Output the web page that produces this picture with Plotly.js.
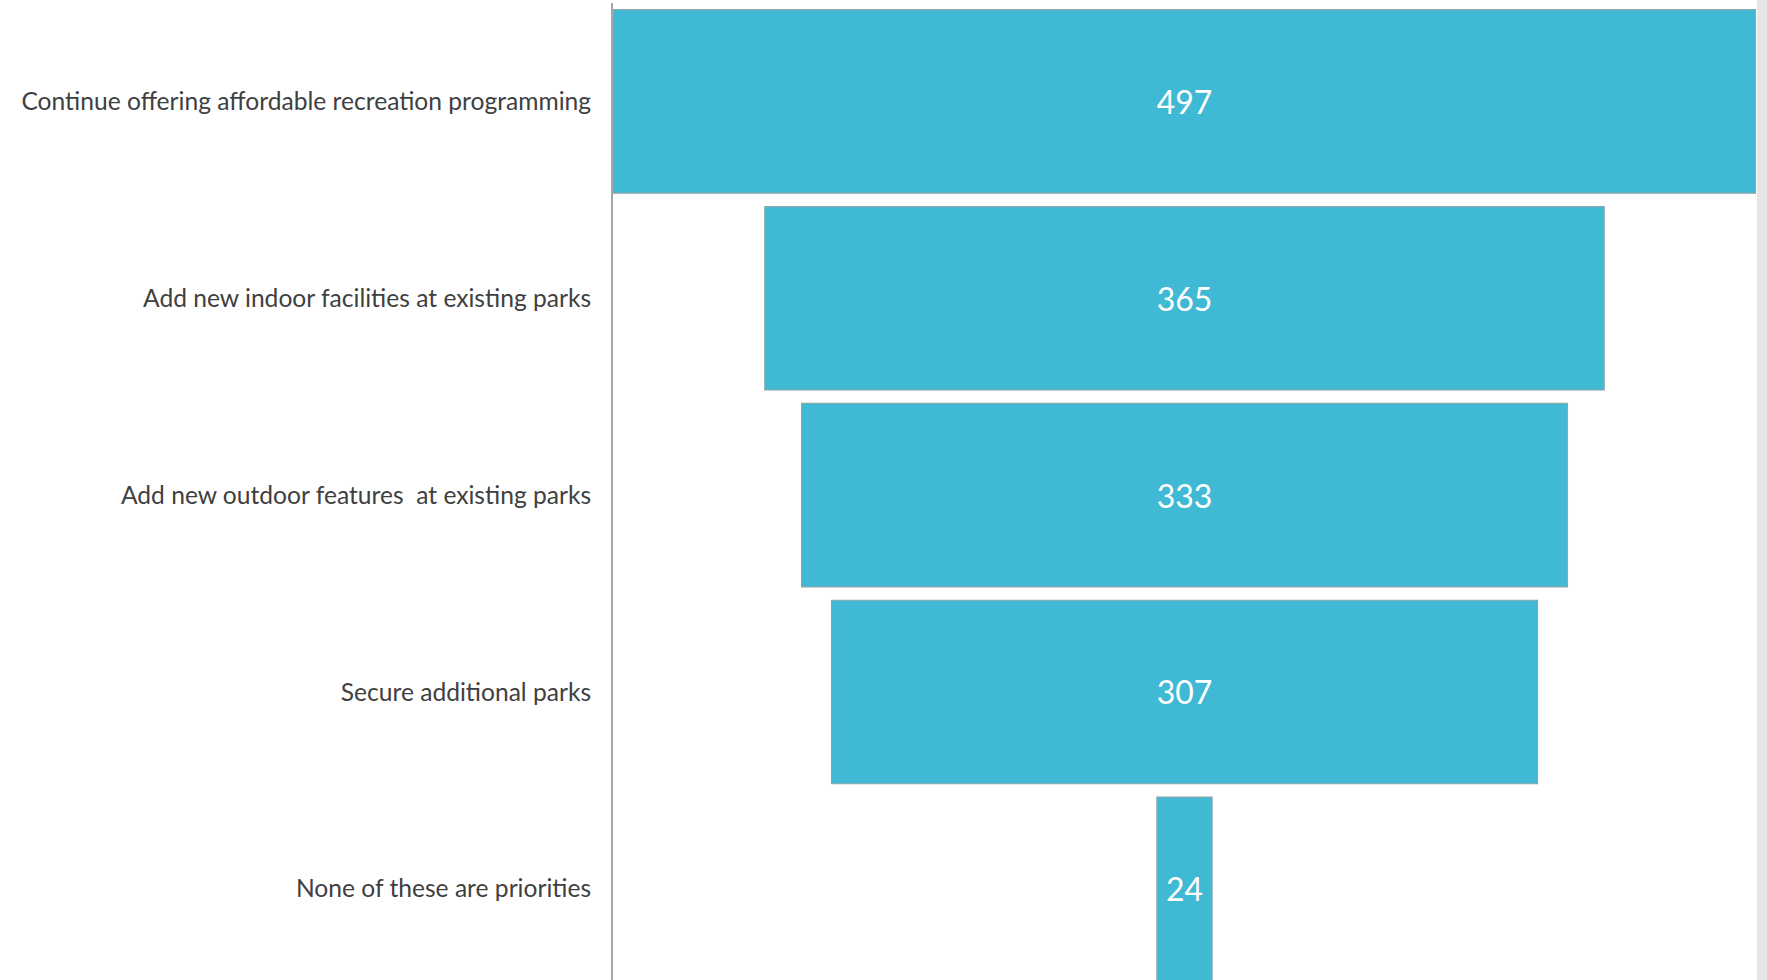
<!DOCTYPE html>
<html>
<head>
<meta charset="utf-8">
<script src="https://cdn.plot.ly/plotly-3.0.1.min.js"></script>
<style>
  html, body { margin: 0; padding: 0; background: #ffffff; }
  #chart { width: 1767px; height: 980px; }
</style>
</head>
<body>
<div id="chart"></div>
<script>
// Data
const categories = [
  "Continue offering affordable recreation programming",
  "Add new indoor facilities at existing parks",
  "Add new outdoor features \u00a0at existing parks",
  "Secure additional parks",
  "None of these are priorities"
];
const values = [497, 365, 333, 307, 24];

const barColor = "#3fb9d4";
const maxVal = Math.max.apply(null, values);

const trace = {
  type: "funnel",
  y: categories,
  x: values,
  orientation: "h",
  marker: { color: barColor, line: { color: "#8aa7ae", width: 1.2 } },
  connector: { visible: false },
  textinfo: "value",
  textposition: "inside",
  insidetextanchor: "middle",
  textfont: { color: "#ffffff", size: 32, family: "Lato, 'Liberation Sans', sans-serif" },
  constraintext: "none",
  hoverinfo: "y+x"
};

const layout = {
  width: 1767,
  height: 980,
  margin: { l: 613, r: 11, t: 3, b: 0, pad: 0 },
  paper_bgcolor: "#ffffff",
  plot_bgcolor: "#ffffff",
  showlegend: false,
  funnelgap: 0.068,
  font: { family: "Lato, 'Liberation Sans', sans-serif", color: "#404040" },
  xaxis: {
    range: [-maxVal / 2, maxVal / 2],
    showgrid: false,
    zeroline: false,
    showticklabels: false,
    showline: false,
    fixedrange: true
  },
  yaxis: {
    type: "category",
    range: [4.463, -0.5],
    autorange: false,
    showgrid: false,
    zeroline: false,
    showline: true,
    linecolor: "#a6a6a6",
    linewidth: 2,
    ticks: "",
    ticklabelstandoff: 15,
    tickfont: { size: 24.6, color: "#404040", family: "Lato, 'Liberation Sans', sans-serif" },
    fixedrange: true
  },
  shapes: [
    {
      type: "rect",
      xref: "paper", yref: "paper",
      x0: 1 + 1 / 1143, x1: 1.02, y0: -0.01, y1: 1.01,
      fillcolor: "#e6e6e6",
      line: { width: 0 },
      layer: "below"
    }
  ]
};

Plotly.newPlot("chart", [trace], layout, { displayModeBar: false, staticPlot: true });
</script>
</body>
</html>
